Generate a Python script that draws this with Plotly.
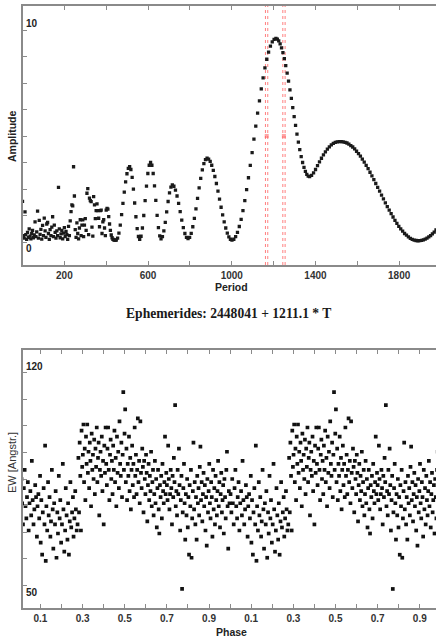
import plotly.graph_objects as go

W, H = 436, 638

# ---------------- data: periodogram ----------------
period_noise = [0, 4, 8, 12, 16, 20, 24, 28, 32, 36, 40, 44, 48, 52, 56, 60, 64, 68, 72, 76,
                80, 84, 88, 92, 96, 100, 104, 108, 112, 116, 120, 124, 128, 132, 136, 140, 144, 148, 152, 156,
                160, 164, 168, 172, 176, 180, 184, 188, 192, 196, 200, 204, 208, 212, 216, 220, 224, 228, 232, 236,
                240, 244, 248, 252, 256, 260, 264, 268, 272, 276, 280, 284, 288, 292, 296, 300, 304, 308, 312, 316,
                320, 324, 328, 332, 336, 340, 344, 348, 352, 356, 360, 364, 368, 372, 376, 380, 384, 388, 392, 396,
                400, 404, 408, 412, 416, 420, 424, 428, 432, 436, 440, 444]
amp_noise = [1.92, 0.30, 0.18, 1.42, 0.35, 0.12, 0.45, 0.22, 0.62, 0.28,
             0.15, 0.40, 0.55, 0.20, 0.33, 0.95, 0.25, 0.48, 1.46, 0.18,
             1.02, 0.36, 0.60, 0.14, 0.78, 0.30, 1.13, 0.52, 0.22, 0.85,
             0.92, 0.40, 0.12, 0.58, 0.30, 0.70, 1.19, 0.25, 0.80, 0.45,
             0.18, 0.52, 0.30, 2.58, 0.62, 0.20, 0.38, 0.55, 0.15, 0.42,
             0.68, 0.26, 0.50, 0.35, 0.12, 0.74, 0.30, 1.00, 1.43, 1.75,
             1.70, 3.55, 2.17, 0.58, 0.22, 0.90, 0.40, 0.15, 0.66, 1.05,
             0.30, 0.80, 1.04, 0.25, 0.80, 1.10, 0.55, 2.30, 2.52, 0.35,
             2.07, 1.95, 1.90, 0.70, 0.28, 2.14, 1.75, 1.10, 1.48, 1.80,
             1.48, 1.12, 0.72, 1.48, 1.50, 0.40, 0.95, 1.05, 0.66, 0.30,
             1.50, 1.59, 1.55, 1.20, 0.85, 0.55, 0.33, 0.20, 0.13, 0.10,
             0.09, 0.09]

period_smooth = [448, 454.4, 460.8, 467.2, 473.6, 480, 486.4, 492.8, 499.2, 505.6, 512,
                 518, 524, 530, 536, 542, 548, 554, 560,
                 566.5, 573, 579.5, 586, 592.5, 599, 605.5, 612,
                 618.3, 624.5, 630.8, 637, 643.3, 649.5, 655.8, 662,
                 668.8, 675.5, 682.3, 689, 695.8, 702.5, 709.3, 716,
                 723.5, 731, 738.5, 746, 753.5, 761, 768.5, 776, 783.5, 791,
                 798.6, 806.2, 813.8, 821.3, 828.9, 836.5, 844.1, 851.7, 859.3, 866.8, 874.4, 882,
                 889.4, 896.9, 904.3, 911.8, 919.2, 926.6, 934.1, 941.5, 949, 956.4, 963.8, 971.3,
                 978.7, 986.1, 993.6, 1001,
                 1009.8, 1018.5, 1027.3, 1036, 1044.8, 1053.5, 1062.3, 1071, 1079.8, 1088.5, 1097.3, 1106,
                 1114.8, 1123.5, 1132.3, 1141, 1149.8, 1158.5, 1167.3, 1176, 1184.8, 1193.5, 1202.3, 1211,
                 1217.7, 1224.4, 1231.1, 1237.8, 1244.5, 1251.3, 1258, 1264.7, 1271.4, 1278.1, 1284.8, 1291.5,
                 1298.2, 1304.9, 1311.6, 1318.3, 1325, 1331.8, 1338.5, 1345.2, 1351.9, 1358.6, 1365.3, 1372,
                 1381.4, 1390.9, 1400.3, 1409.8, 1419.2, 1428.6, 1438.1, 1447.5, 1456.9, 1466.4, 1475.8, 1485.3,
                 1494.7, 1504.1, 1513.6, 1523,
                 1532.2, 1541.4, 1550.5, 1559.7, 1568.9, 1578.1, 1587.2, 1596.4, 1605.6, 1614.8, 1623.9, 1633.1,
                 1642.3, 1651.5, 1660.6, 1669.8, 1679, 1688.2, 1697.3, 1706.5, 1715.7, 1724.9, 1734, 1743.2,
                 1752.4, 1761.6, 1770.7, 1779.9, 1789.1, 1798.3, 1807.4, 1816.6, 1825.8, 1835, 1844.1, 1853.3,
                 1862.5, 1871.6, 1880.8, 1890,
                 1898.6, 1907.2, 1915.8, 1924.4, 1933, 1941.6, 1950.2, 1958.8, 1967.4, 1976, 1984.6]
amp_smooth = [0.09, 0.18, 0.42, 0.80, 1.29, 1.82, 2.35, 2.84, 3.22, 3.47, 3.55,
              3.42, 3.05, 2.49, 1.84, 1.19, 0.63, 0.26, 0.13,
              0.27, 0.66, 1.25, 1.95, 2.64, 3.23, 3.62, 3.76,
              3.62, 3.23, 2.65, 1.96, 1.26, 0.68, 0.29, 0.15,
              0.25, 0.52, 0.93, 1.42, 1.91, 2.32, 2.59, 2.69,
              2.63, 2.45, 2.17, 1.82, 1.43, 1.03, 0.68, 0.40, 0.22, 0.16,
              0.22, 0.41, 0.72, 1.11, 1.56, 2.06, 2.55, 3.00, 3.40, 3.70, 3.89, 3.95,
              3.91, 3.80, 3.62, 3.38, 3.09, 2.76, 2.40, 2.02, 1.64, 1.28, 0.95, 0.66,
              0.42, 0.24, 0.13, 0.09,
              0.13, 0.25, 0.45, 0.73, 1.07, 1.48, 1.95, 2.47, 3.03, 3.61, 4.22, 4.85,
              5.47, 6.08, 6.66, 7.22, 7.74, 8.21, 8.62, 8.96, 9.24, 9.44, 9.56, 9.60,
              9.57, 9.49, 9.35, 9.16, 8.93, 8.65, 8.32, 7.97, 7.59, 7.18, 6.77, 6.34,
              5.91, 5.50, 5.09, 4.71, 4.36, 4.03, 3.75, 3.52, 3.33, 3.19, 3.11, 3.08,
              3.14, 3.26, 3.42, 3.60, 3.78, 3.95, 4.11, 4.25, 4.38, 4.49, 4.58, 4.65,
              4.70, 4.72, 4.73, 4.73,
              4.72, 4.70, 4.67, 4.62, 4.55, 4.48, 4.39, 4.28, 4.17, 4.05, 3.91, 3.77,
              3.61, 3.46, 3.29, 3.12, 2.94, 2.76, 2.58, 2.40, 2.21, 2.03, 1.85, 1.67,
              1.50, 1.34, 1.18, 1.02, 0.88, 0.74, 0.62, 0.51, 0.40, 0.32, 0.24, 0.17,
              0.12, 0.09, 0.07, 0.06,
              0.065, 0.08, 0.10, 0.14, 0.18, 0.24, 0.30, 0.38, 0.47, 0.57, 0.67]

# error interval of the best period (double dotted red lines) and bracket marks
band_lines = [1161, 1172, 1244, 1255]
bracket_period = [1167, 1249]
bracket_amp = [5.0, 5.0]

period_ticks = [200, 400, 600, 800, 1000, 1200, 1400, 1600, 1800]
period_ticktext = ["200", "", "600", "", "1000", "", "1400", "", "1800"]

# ---------------- data: phase diagram (one cycle, drawn twice) ----------------
phase = [0.002, 0.006, 0.010, 0.013, 0.017, 0.021, 0.025, 0.029, 0.033, 0.036, 0.040, 0.044, 0.048,
         0.052, 0.056, 0.059, 0.063, 0.067, 0.071, 0.075, 0.079, 0.083, 0.086, 0.090, 0.094, 0.098,
         0.101, 0.104, 0.108, 0.111, 0.115, 0.119, 0.122, 0.125, 0.128, 0.132, 0.136, 0.139, 0.143,
         0.147, 0.150, 0.154, 0.158, 0.161, 0.165, 0.169, 0.172, 0.176, 0.180, 0.183, 0.187, 0.191,
         0.194, 0.198, 0.202, 0.206, 0.209, 0.213, 0.217, 0.220, 0.224, 0.228, 0.231, 0.235, 0.239,
         0.242, 0.246, 0.250, 0.254, 0.257, 0.261, 0.265, 0.268, 0.272, 0.276,
         0.280, 0.283, 0.286, 0.289, 0.292, 0.295, 0.298, 0.301, 0.304, 0.307, 0.310, 0.313, 0.316,
         0.319, 0.322, 0.325, 0.328, 0.331, 0.334, 0.337, 0.340, 0.343, 0.346, 0.349, 0.352, 0.355,
         0.358, 0.361, 0.364, 0.367, 0.370, 0.373, 0.376, 0.379, 0.382, 0.385, 0.388, 0.391, 0.394,
         0.397, 0.400, 0.403, 0.406, 0.409, 0.412, 0.415, 0.418, 0.421, 0.424, 0.427, 0.430, 0.433,
         0.436, 0.439, 0.442, 0.445, 0.448, 0.451, 0.454, 0.457, 0.460, 0.463, 0.466, 0.469, 0.472,
         0.475, 0.478, 0.481, 0.484, 0.487, 0.490, 0.493, 0.496, 0.499, 0.502, 0.505,
         0.508, 0.511, 0.514, 0.517, 0.520, 0.523, 0.526, 0.529, 0.532, 0.535, 0.538, 0.541, 0.544,
         0.547, 0.550, 0.553, 0.556, 0.559, 0.562, 0.565, 0.568, 0.571, 0.574, 0.577, 0.580, 0.583,
         0.586, 0.589, 0.592, 0.595, 0.598, 0.601, 0.604, 0.607, 0.610, 0.613, 0.616, 0.619, 0.622,
         0.625, 0.628, 0.631, 0.634, 0.637, 0.640, 0.643, 0.646, 0.649, 0.652, 0.655, 0.658, 0.661,
         0.664, 0.667, 0.670, 0.673, 0.676, 0.679, 0.682, 0.685, 0.688, 0.691, 0.694, 0.697,
         0.700, 0.703, 0.706, 0.709, 0.712, 0.715, 0.718, 0.721, 0.724, 0.727, 0.730, 0.733, 0.736,
         0.739, 0.742, 0.745, 0.748, 0.751, 0.754, 0.757, 0.760, 0.763, 0.766, 0.769, 0.772, 0.775,
         0.778, 0.781, 0.784, 0.787, 0.790, 0.793, 0.796, 0.799, 0.802, 0.805, 0.808, 0.811, 0.814,
         0.817, 0.820, 0.823, 0.826, 0.829, 0.832, 0.835, 0.838, 0.841, 0.844, 0.847,
         0.850, 0.853, 0.856, 0.859, 0.862, 0.865, 0.868, 0.871, 0.874, 0.877, 0.880, 0.883, 0.886,
         0.889, 0.892, 0.895, 0.898, 0.901, 0.904, 0.907, 0.910, 0.913, 0.916, 0.919, 0.922, 0.925,
         0.928, 0.931, 0.934, 0.937, 0.940, 0.943, 0.946, 0.949, 0.952, 0.955, 0.958, 0.961, 0.964,
         0.967, 0.970, 0.973, 0.976, 0.979, 0.982, 0.985, 0.988, 0.991, 0.994, 0.997]
ew = [80, 74, 85, 77, 70, 82, 88, 76, 72, 79, 84, 68, 77,
      81, 73, 91, 78, 70, 75, 83, 79, 66, 76, 80, 72, 86,
      64, 78, 60, 74, 82, 70, 96, 58, 76, 68, 84, 73, 79,
      66, 71, 88, 75, 62, 77, 70, 81, 59, 74, 67, 86, 72,
      78, 64, 70, 90, 75, 61, 68, 82, 73, 65, 77, 60, 71,
      84, 69, 74, 79, 66, 72, 81, 75, 68, 70,
      92, 74, 97, 86, 68, 101, 89, 93, 103, 84, 95, 78, 99,
      90, 103, 87, 94, 82, 97, 91, 76, 100, 88, 93, 85, 98,
      80, 95, 89, 102, 84, 92, 97, 73, 88, 94, 86, 99, 81,
      91, 70, 96, 87, 102, 90, 83, 95, 102, 88, 78, 93, 98,
      85, 91, 80, 96, 88, 101, 84, 92, 76, 99, 87, 94, 82,
      104, 90, 86, 97, 79, 93, 113.7, 88, 100, 108, 84,
      95, 78, 90, 86, 99, 81, 92, 75, 88, 96, 83, 90, 79,
      102, 86, 93, 80, 88, 105, 84, 91, 77, 104, 87, 82, 95,
      89, 74, 91, 85, 80, 93, 87, 71, 83, 90, 78, 86, 81,
      94, 76, 84, 88, 73, 80, 91, 77, 85, 69, 82, 88, 75,
      67, 83, 79, 86, 72, 90, 81, 77, 84, 99, 80, 87,
      83, 78, 96, 85, 75, 80, 88, 82, 70, 86, 79, 92, 84,
      109.4, 76, 81, 73, 88, 80, 95, 83, 68, 78, 86, 48.7, 74,
      82, 90, 77, 65, 80, 73, 85, 69, 79, 60, 83, 76, 88,
      59, 72, 81, 97, 75, 84, 70, 79, 65, 86, 77,
      82, 73, 89, 95.7, 78, 84, 71, 80, 87, 76, 83, 68, 79,
      63, 85, 74, 81, 90, 77, 72, 84, 79, 66, 88, 75, 82,
      70, 86, 78, 73, 81, 91, 76, 84, 69, 80, 87, 74, 78,
      83, 67, 85, 79, 72, 88, 94, 76, 62, 81, 77]

phase_tickvals = [round(0.1 * i, 1) for i in range(1, 20)]
phase_ticktext = ["0.1", "", "0.3", "", "0.5", "", "0.7", "", "0.9", "",
                  "0.1", "", "0.3", "", "0.5", "", "0.7", "", "0.9"]

# ---------------- figure ----------------
def px_x(p):
    return p / W


def px_y(p):
    return 1 - p / H


AX = "#8a8a8a"
SANS = "Liberation Sans, Arial, sans-serif"
SERIF = "Liberation Serif, Times New Roman, serif"

fig = go.Figure()

fig.add_trace(go.Scatter(x=period_noise + period_smooth, y=amp_noise + amp_smooth,
                         mode="markers", marker=dict(symbol="square", size=3.3, color="#1a1a1a"),
                         xaxis="x", yaxis="y", showlegend=False, hoverinfo="skip"))
fig.add_trace(go.Scatter(x=bracket_period, y=bracket_amp, mode="markers",
                         marker=dict(symbol="square", size=4, color="rgba(255,90,90,0.55)"),
                         xaxis="x", yaxis="y", showlegend=False, hoverinfo="skip"))

fig.add_trace(go.Scatter(x=phase + [p + 1 for p in phase], y=ew + ew, mode="markers",
                         marker=dict(symbol="square", size=3.7, color="#111111"),
                         xaxis="x2", yaxis="y2", showlegend=False, hoverinfo="skip"))

top_dom = [px_y(265), px_y(5.7)]
bot_dom = [px_y(608), px_y(350)]
x_dom = [px_x(22.5), 1.0]

tickfont = dict(family=SANS, size=10, color="#333", weight="bold")

fig.update_layout(
    width=W, height=H, margin=dict(l=0, r=0, t=0, b=0),
    paper_bgcolor="white", plot_bgcolor="white",
    xaxis=dict(domain=x_dom, anchor="y", range=[0, 1976], tickvals=period_ticks,
               ticktext=period_ticktext, ticks="inside", ticklen=4, tickcolor=AX,
               showline=True, linecolor=AX, linewidth=2, mirror="ticks",
               showgrid=False, zeroline=False, tickfont=tickfont, automargin=False),
    yaxis=dict(domain=top_dom, anchor="x", range=[-1.085, 11.146],
               tickvals=[1.25 * i for i in range(9)], ticks="inside", ticklen=4, tickcolor=AX,
               showticklabels=False, showline=True, linecolor=AX, linewidth=2,
               showgrid=False, zeroline=False, automargin=False),
    xaxis2=dict(domain=x_dom, anchor="y2", range=[0.0147, 1.977], tickvals=phase_tickvals,
                ticktext=phase_ticktext, ticks="inside", ticklen=4, tickcolor=AX,
                showline=True, linecolor=AX, linewidth=2, mirror="ticks",
                showgrid=False, zeroline=False, tickfont=tickfont, automargin=False),
    yaxis2=dict(domain=bot_dom, anchor="x2", range=[42.41, 127.59],
                tickvals=[50 + 8.75 * i for i in range(9)], ticks="inside", ticklen=4, tickcolor=AX,
                showticklabels=False, showline=True, linecolor=AX, linewidth=2,
                showgrid=False, zeroline=False, automargin=False),
)

for xv in band_lines:
    fig.add_shape(type="line", xref="x", yref="paper", x0=xv, x1=xv,
                  y0=top_dom[0], y1=top_dom[1], layer="below",
                  line=dict(color="#ff8080", width=1, dash="dot"))

ann = []
def label(text, x, y, size=10.5, weight="bold", family=SANS, xanchor="center", angle=0, color="#222"):
    ann.append(dict(text=text, x=px_x(x), y=px_y(y), xref="paper", yref="paper",
                    showarrow=False, xanchor=xanchor, yanchor="middle", textangle=angle,
                    font=dict(family=family, size=size, color=color, weight=weight)))

label("10", 24, 24, size=10, xanchor="left")
label("0", 24, 248, size=10, xanchor="left")
label("120", 23.5, 367, size=10, xanchor="left")
label("50", 23.5, 592, size=10, xanchor="left")
label("Period", 231, 287)
label("Amplitude", 12, 137, angle=-90)
label("Ephemerides: 2448041 + 1211.1 * T", 228, 313, size=13.6, family=SERIF, color="#1a1a1a")
label("EW [Angstr.]", 12, 463, size=11, weight="normal", angle=-90, color="#333")
label("Phase", 231, 632)
fig.update_layout(annotations=ann)

fig.write_html("out.html")
